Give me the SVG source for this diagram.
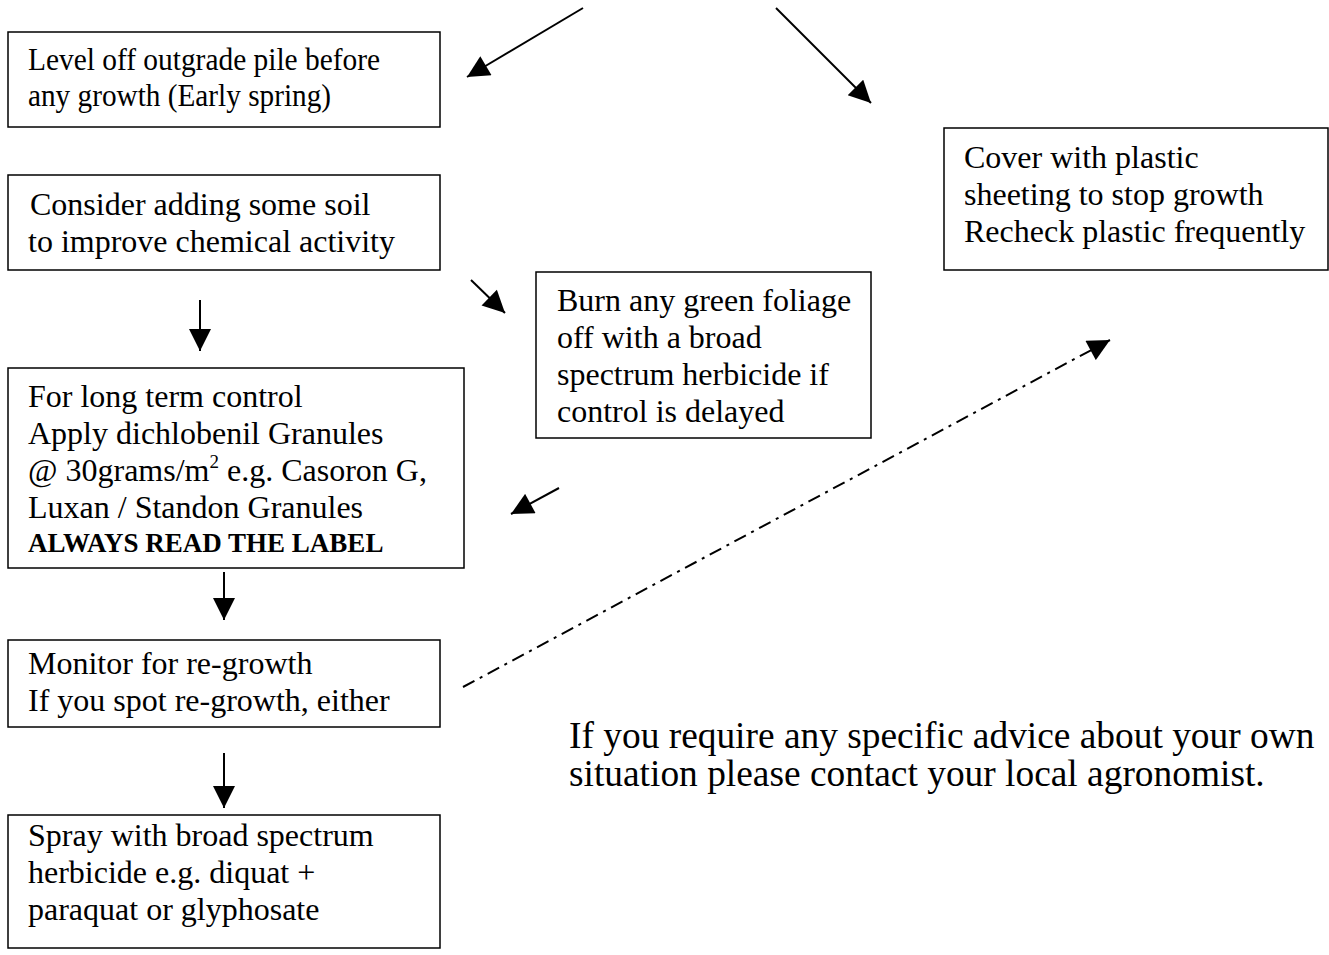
<svg xmlns="http://www.w3.org/2000/svg" width="1329" height="955" viewBox="0 0 1329 955">
<style>
.box{fill:#fff;stroke:#000;stroke-width:1.5}
.t{font-family:"Liberation Serif","Times New Roman",serif;font-size:32px;fill:#000}
.b{font-family:"Liberation Serif","Times New Roman",serif;font-size:27px;font-weight:bold;fill:#000}
.big{font-family:"Liberation Serif","Times New Roman",serif;font-size:37.4px;fill:#000}
.c{stroke:#000;stroke-width:2;fill:none}
</style>
<defs>
<marker id="ahb" viewBox="0 0 10 10" refX="10" refY="5" markerWidth="24" markerHeight="22" markerUnits="userSpaceOnUse" orient="auto">
<path d="M0,0 L10,5 L0,10 z" fill="#000"/>
</marker>
</defs>
<rect width="1329" height="955" fill="#fff"/>
<g id="n1"><rect class="box" x="8" y="32" width="432" height="95"/>
<text class="t" x="28" y="70" textLength="352" lengthAdjust="spacingAndGlyphs">Level off outgrade pile before</text>
<text class="t" x="28" y="106" textLength="303" lengthAdjust="spacingAndGlyphs">any growth (Early spring)</text></g>
<g id="n2"><rect class="box" x="8" y="175" width="432" height="95"/>
<text class="t" x="30" y="215">Consider adding some soil</text>
<text class="t" x="28" y="252">to improve chemical activity</text></g>
<g id="n3"><rect class="box" x="8" y="368" width="456" height="200"/>
<text class="t" x="28" y="407">For long term control</text>
<text class="t" x="28" y="444">Apply dichlobenil Granules</text>
<text class="t" x="28" y="481">@ 30grams/m<tspan font-size="19" dy="-13">2</tspan><tspan dy="13"> e.g. Casoron G,</tspan></text>
<text class="t" x="28" y="518">Luxan / Standon Granules</text>
<text class="b" x="28" y="552">ALWAYS READ THE LABEL</text></g>
<g id="n4"><rect class="box" x="8" y="640" width="432" height="87"/>
<text class="t" x="28" y="674">Monitor for re-growth</text>
<text class="t" x="28" y="711">If you spot re-growth, either</text></g>
<g id="n5"><rect class="box" x="8" y="815" width="432" height="133"/>
<text class="t" x="28" y="846">Spray with broad spectrum</text>
<text class="t" x="28" y="883">herbicide e.g. diquat +</text>
<text class="t" x="28" y="920">paraquat or glyphosate</text></g>
<g id="n6"><rect class="box" x="536" y="272" width="335" height="166"/>
<text class="t" x="557" y="311">Burn any green foliage</text>
<text class="t" x="557" y="348">off with a broad</text>
<text class="t" x="557" y="385">spectrum herbicide if</text>
<text class="t" x="557" y="422">control is delayed</text></g>
<g id="n7"><rect class="box" x="944" y="128" width="384" height="142"/>
<text class="t" x="964" y="168">Cover with plastic</text>
<text class="t" x="964" y="205">sheeting to stop growth</text>
<text class="t" x="964" y="242">Recheck plastic frequently</text></g>
<g id="note">
<text class="big" x="569" y="748">If you require any specific advice about your own</text>
<text class="big" x="569" y="786">situation please contact your local agronomist.</text></g>
<g id="connectors">
<line class="c" x1="583" y1="8" x2="467" y2="77" marker-end="url(#ahb)"/>
<line class="c" x1="776" y1="8" x2="871" y2="103" marker-end="url(#ahb)"/>
<line class="c" x1="200" y1="300" x2="200" y2="351" marker-end="url(#ahb)"/>
<line class="c" x1="471" y1="280" x2="505" y2="313" marker-end="url(#ahb)"/>
<line class="c" x1="559" y1="488" x2="511" y2="514" marker-end="url(#ahb)"/>
<line class="c" x1="224" y1="572" x2="224" y2="620" marker-end="url(#ahb)"/>
<line class="c" x1="224" y1="753" x2="224" y2="808" marker-end="url(#ahb)"/>
<line class="c" x1="463" y1="687" x2="1110" y2="340" stroke-dasharray="13,6,3,6" marker-end="url(#ahb)"/>
</g>
</svg>
